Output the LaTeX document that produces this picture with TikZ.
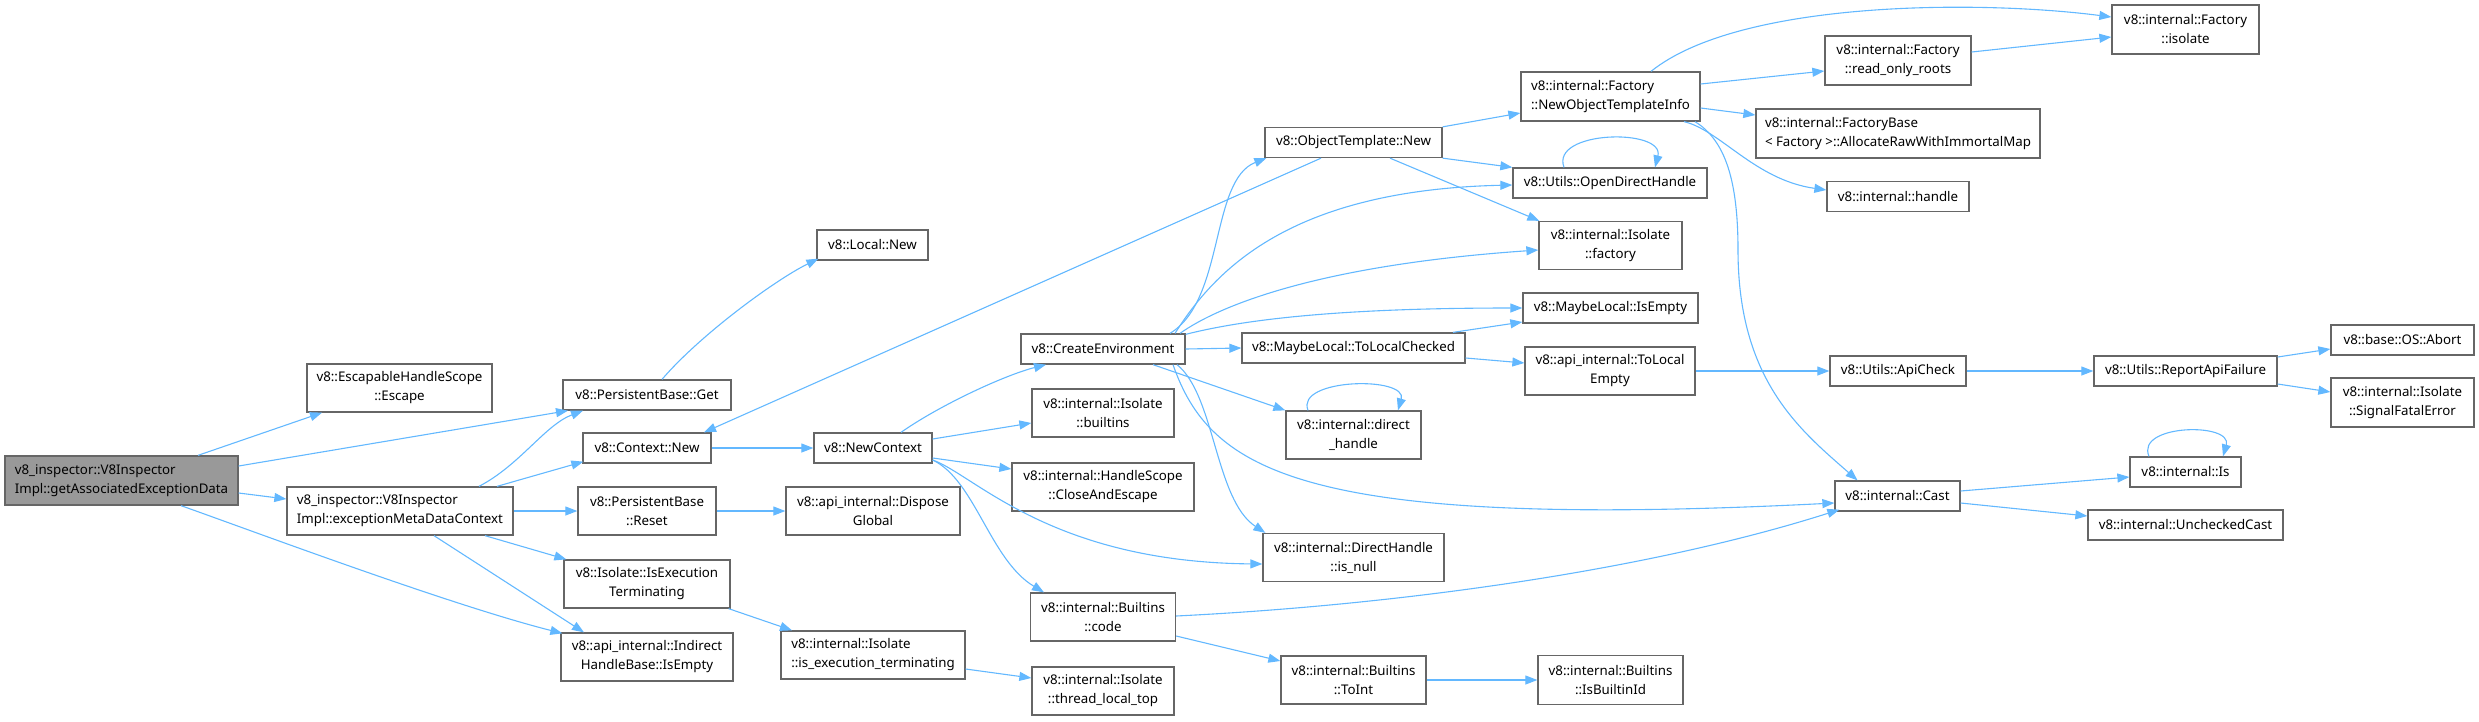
\documentclass[tikz,border=0pt]{standalone}
\usepackage{fontspec}
\setmainfont{Noto Sans}
\usetikzlibrary{arrows.meta}
\definecolor{edgeblue}{RGB}{99,184,255}
\definecolor{boxgray}{RGB}{102,102,102}
\definecolor{rootfill}{RGB}{153,153,153}
\begin{document}
\begin{tikzpicture}[x=1pt,y=-1pt,
  box/.style={draw=boxgray, line width=1.3pt, fill=white, inner sep=0pt, align=center,
    font=\fontsize{13.3}{19}\selectfont, text=black},
  lbox/.style={box, align=left},
  sz/.style 2 args={minimum width=#1pt, minimum height=#2pt},
  edge/.style={draw=edgeblue, line width=1.1pt, -{Triangle[length=12pt,width=9pt]}},
  ]
\useasboundingbox (0,0) rectangle (2479,721);
% nodes
\node[lbox, sz={233}{49}, fill=rootfill] (root) at (121.5,480.5) {v8\_inspector::V8Inspector\\Impl::getAssociatedExceptionData};
\node[box, sz={185}{48}] (escape) at (399.5,388) {v8::EscapableHandleScope\\::Escape};
\node[box, sz={168}{30}] (pbget) at (647,395) {v8::PersistentBase::Get};
\node[box, sz={128}{30}] (ctxnew) at (647,448) {v8::Context::New};
\node[lbox, sz={226}{48}] (emdc) at (400,511) {v8\_inspector::V8Inspector\\Impl::exceptionMetaDataContext};
\node[box, sz={138}{48}] (pbreset) at (647,511) {v8::PersistentBase\\::Reset};
\node[box, sz={166}{48}] (isexec) at (647,584) {v8::Isolate::IsExecution\\Terminating};
\node[box, sz={172}{48}] (indirect) at (647,657) {v8::api\_internal::Indirect\\HandleBase::IsEmpty};
\node[box, sz={111}{30}] (localnew) at (872.5,245) {v8::Local::New};
\node[box, sz={118}{30}] (newctx) at (873,448) {v8::NewContext};
\node[box, sz={174}{48}] (dispose) at (873,511) {v8::api\_internal::Dispose\\Global};
\node[lbox, sz={184}{48}] (isexecterm) at (873,655) {v8::internal::Isolate\\::is\_execution\_terminating};
\node[box, sz={164}{30}] (createenv) at (1103,349) {v8::CreateEnvironment};
\node[box, sz={142}{48}] (builtins) at (1103,413) {v8::internal::Isolate\\::builtins};
\node[box, sz={182}{48}] (closeesc) at (1103,487) {v8::internal::HandleScope\\::CloseAndEscape};
\node[box, sz={145}{48}] (code) at (1103,617) {v8::internal::Builtins\\::code};
\node[box, sz={142}{48}] (tlt) at (1103,691) {v8::internal::Isolate\\::thread\_local\_top};
\node[box, sz={177}{30}] (objtnew) at (1353.5,142.5) {v8::ObjectTemplate::New};
\node[box, sz={223}{30}] (tlc) at (1353.5,348) {v8::MaybeLocal::ToLocalChecked};
\node[box, sz={135}{48}] (directh) at (1353.5,435) {v8::internal::direct\\\_handle};
\node[box, sz={181}{48}] (isnull) at (1353.5,557.5) {v8::internal::DirectHandle\\::is\_null};
\node[box, sz={145}{48}] (toint) at (1353.5,680) {v8::internal::Builtins\\::ToInt};
\node[lbox, sz={179}{49}] (newoti) at (1610.5,96.5) {v8::internal::Factory\\::NewObjectTemplateInfo};
\node[box, sz={194}{30}] (odh) at (1610,183) {v8::Utils::OpenDirectHandle};
\node[box, sz={143}{48}] (factory) at (1610.5,245.5) {v8::internal::Isolate\\::factory};
\node[box, sz={175}{30}] (mlisempty) at (1610.5,308) {v8::MaybeLocal::IsEmpty};
\node[box, sz={170}{48}] (tle) at (1610,371) {v8::api\_internal::ToLocal\\Empty};
\node[box, sz={145}{49}] (isbid) at (1610.5,680) {v8::internal::Builtins\\::IsBuiltinId};
\node[box, sz={146}{49}] (ror) at (1898,60.5) {v8::internal::Factory\\::read\_only\_roots};
\node[lbox, sz={284}{49}] (alloc) at (1898,133.5) {v8::internal::FactoryBase\\< Factory >::AllocateRawWithImmortalMap};
\node[box, sz={142}{30}] (ihandle) at (1898,196.5) {v8::internal::handle};
\node[box, sz={136}{30}] (apicheck) at (1898,371) {v8::Utils::ApiCheck};
\node[box, sz={125}{30}] (cast) at (1897.5,496) {v8::internal::Cast};
\node[box, sz={147}{49}] (fisolate) at (2185.5,29.5) {v8::internal::Factory\\::isolate};
\node[box, sz={183}{30}] (report) at (2185.5,371) {v8::Utils::ReportApiFailure};
\node[box, sz={111}{30}] (is) at (2185.5,472) {v8::internal::Is};
\node[box, sz={195}{30}] (unchecked) at (2185.5,525) {v8::internal::UncheckedCast};
\node[box, sz={143}{30}] (abort) at (2402.5,340) {v8::base::OS::Abort};
\node[box, sz={143}{49}] (sfe) at (2402.5,402.5) {v8::internal::Isolate\\::SignalFatalError};
% edges
\draw[edge] ([xshift=76.5pt]root.north) -- ([xshift=-77.5pt]escape.south);
\draw[edge] ([yshift=14.5pt]root.east) -- ([xshift=-79pt]pbget.south);
\draw[edge] ([yshift=-12.5pt]root.east) -- ([yshift=12pt]emdc.west);
\draw[edge] ([xshift=59.5pt]root.south) .. controls (250,530) and (450,605) .. ([xshift=2pt,yshift=-1pt]indirect.north west);
\draw[edge] ([xshift=79pt]emdc.north) .. controls (520,465) and (545,425) .. ([xshift=-64pt]pbget.south);
\draw[edge] ([xshift=97pt]emdc.north) -- ([xshift=1pt,yshift=2pt]ctxnew.south west);
\draw[edge] (emdc.east) -- (pbreset.west);
\draw[edge] ([xshift=85pt]emdc.south) -- ([xshift=3pt]isexec.north west);
\draw[edge] ([xshift=34pt]emdc.south) -- ([xshift=-63pt]indirect.north);
\draw[edge] (pbreset.east) -- (dispose.west);
\draw[edge] ([xshift=-2pt]isexec.south east) -- ([xshift=-81pt]isexecterm.north);
\draw[edge] (ctxnew.east) -- (newctx.west);
\draw[edge] ([xshift=15pt]pbget.north) .. controls (700,335) and (775,280) .. ([xshift=2pt,yshift=2pt]localnew.south west);
\draw[edge] ([xshift=-32.5pt]objtnew.south) -- ([xshift=57pt]ctxnew.north);
\draw[edge] ([xshift=28pt]newctx.north) .. controls (940,405) and (1005,375) .. ([xshift=-57pt]createenv.south);
\draw[edge] ([yshift=9pt]newctx.east) -- ([yshift=-10pt]builtins.west);
\draw[edge] ([yshift=-10pt]newctx.east) -- ([yshift=18pt]closeesc.west);
\draw[edge] ([yshift=-12pt]newctx.east) .. controls (975,475) and (1050,562) .. ([yshift=-6.5pt]isnull.west);
\draw[edge] ([yshift=-12pt]newctx.east) .. controls (975,480) and (990,560) .. ([xshift=-59pt]code.north);
\draw[edge] ([yshift=1pt]code.east) .. controls (1400,605) and (1650,570) .. ([xshift=5pt,yshift=2pt]cast.south west);
\draw[edge] ([yshift=-19pt]code.east) -- ([yshift=19pt]toint.west);
\draw[edge] (toint.east) -- (isbid.west);
\draw[edge] ([yshift=-14pt]isexecterm.east) -- ([yshift=13pt]tlt.west);
\draw[edge] ([xshift=67pt]createenv.north) .. controls (1225,300) and (1210,180) .. ([xshift=2pt]objtnew.south west);
\draw[edge] ([xshift=72pt]createenv.north) .. controls (1215,270) and (1290,190) .. ([yshift=-2pt]odh.west);
\draw[edge] ([xshift=77pt]createenv.north) .. controls (1220,305) and (1320,265) .. ([yshift=-4.5pt]factory.west);
\draw[edge] ([yshift=-1pt]createenv.north east) .. controls (1250,318) and (1350,308) .. (mlisempty.west);
\draw[edge] (createenv.east) -- (tlc.west);
\draw[edge] ([xshift=50pt]createenv.south) -- (directh.north west);
\draw[edge] ([xshift=74pt]createenv.south) .. controls (1215,395) and (1215,500) .. ([xshift=3pt]isnull.north west);
\draw[edge] ([xshift=70pt]createenv.south) .. controls (1210,470) and (1300,530) .. ([yshift=-7pt]cast.west);
\draw[edge] (objtnew.south east) -- (odh.north west);
\draw[edge] ([xshift=36.5pt]objtnew.south) -- ([xshift=1pt]factory.north west);
\draw[edge] (objtnew.north east) -- ([yshift=-16.5pt]newoti.west);
\draw[edge] ([xshift=99.5pt]tlc.north) -- ([yshift=-14pt]mlisempty.west);
\draw[edge] ([yshift=-10pt]tlc.east) -- ([yshift=8pt]tle.west);
\draw[edge] ([xshift=-46pt]odh.north) .. controls (1550,130) and (1665,128) .. ([xshift=45pt]odh.north);
\draw[edge] ([xshift=-45.5pt]directh.north) .. controls (1295,378) and (1408,376) .. ([xshift=44.5pt]directh.north);
\draw[edge] ([xshift=-36.5pt]is.north) .. controls (2135,424) and (2233,422) .. ([xshift=37.5pt]is.north);
\draw[edge] ([xshift=40.5pt]newoti.north) .. controls (1740,0) and (1980,0) .. ([yshift=12.5pt]fisolate.west);
\draw[edge] ([yshift=12.5pt]newoti.east) -- ([yshift=-10.5pt]ror.west);
\draw[edge] ([yshift=-11.5pt]newoti.east) -- ([yshift=18.5pt]alloc.west);
\draw[edge] ([xshift=73.5pt]newoti.south) .. controls (1720,130) and (1755,180) .. ([yshift=6.5pt]ihandle.west);
\draw[edge] ([xshift=84.5pt]newoti.south) .. controls (1725,140) and (1738,180) .. (1738,250) .. controls (1738,380) and (1800,430) .. ([xshift=-40pt]cast.north);
\draw[edge] ([yshift=8.5pt]ror.east) -- ([yshift=-7.5pt]fisolate.west);
\draw[edge] (tle.east) -- (apicheck.west);
\draw[edge] (apicheck.east) -- (report.west);
\draw[edge] ([yshift=14pt]report.east) -- ([yshift=-9pt]abort.west);
\draw[edge] ([yshift=-13pt]report.east) -- ([yshift=10.5pt]sfe.west);
\draw[edge] ([yshift=5pt]cast.east) -- ([yshift=-5pt]is.west);
\draw[edge] ([yshift=-7pt]cast.east) -- ([yshift=9pt]unchecked.west);
\end{tikzpicture}
\end{document}
